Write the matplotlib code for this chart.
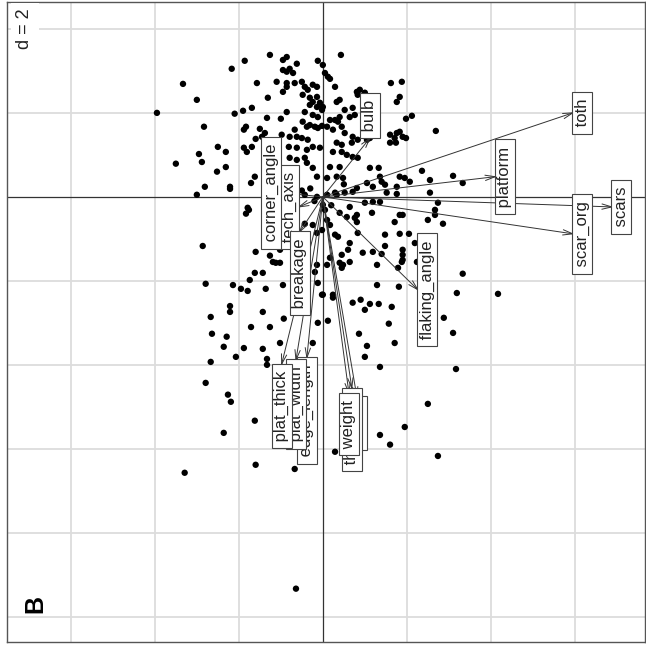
import numpy as np
import matplotlib
matplotlib.use("Agg")
import matplotlib.pyplot as plt

plt.rcParams['font.family'] = ['Liberation Sans', 'DejaVu Sans']

# Row scores (individual flakes) on the two retained axes
pts_x = [
    -1.26, -0.86, -1.86, -0.95, -0.62, -2.17, -0.95, -0.86, -0.79, -0.71, -0.12, -1.57,
    -3.33, -1.10, -0.86, -0.86, -0.67, -0.50, -0.43, -0.36, -0.24, -0.14, -0.95, -3.00,
    -1.31, -0.48, -0.31, -0.24, -0.14, -0.31, -0.14, -0.07, -0.02, -3.95, -2.10, -1.90,
    -1.69, -0.86, -1.33, -1.00, -0.43, -0.24, -0.12, -2.83, -1.83, -1.88, -1.50, -1.38,
    -0.67, -0.48, -0.38, -0.31, -0.19, -0.12, -0.02, -0.98, -1.60, -1.45, -0.79, -0.62,
    -0.50, -0.36, -2.50, -2.31, -1.88, -1.81, -1.69, -0.81, -0.62, -0.38, -0.24, -0.07,
    -2.95, -2.88, -3.50, -0.79, -0.62, -0.43, -0.38, -2.31, -2.52, -0.24, -0.14, -1.62,
    -1.71, -2.81, -2.21, -2.21, -3.00, -0.43, -0.14,
    0.43, 0.00, 0.05, 0.12, 0.17, 0.29, 1.62, 1.88, 0.81, 0.88, 0.83, 1.00, 1.83, 1.76,
    0.40, 0.33, 0.00, 0.52, 0.71, 0.76, 0.64, 0.40, 0.36, 0.29, 1.98, 2.12, 2.69, 0.17,
    0.10, 0.24, 0.45, 0.52, 1.60, 1.76, 1.83, 1.71, 1.90, 1.98, 1.60, 1.74, 0.71, 0.83,
    1.05, 1.12, 0.33, 0.45, 0.69, 0.24, 0.45, 0.57, 0.71, 0.83, 0.17, 0.40, 1.12, 1.33,
    2.36, 3.10, 3.33, 0.10, 0.33, 0.48, 1.36, 1.40, 1.48, 1.83, 1.95, 2.07, 1.76, 2.55,
    1.05, 1.19, 0.81, 0.71, 0.52, 0.33, 1.52, 1.76, 2.55, 0.10, 0.29,
    -1.76, -1.83, -2.86, -1.60, -1.26, -1.19, -1.12, -1.02, -1.62, -1.43, -1.74, -2.79,
    -2.14, -1.95, -1.79, -1.36, -0.95, -2.21, -2.21, -1.43, -2.67, -0.93, -1.71, -1.26,
    -2.64, -2.29, -2.36, -1.88, -1.43, -1.02, -2.07, -1.33, -1.33, -2.67, -2.79, -2.26,
    -0.43, -0.24, -0.14, -0.02, -0.14, -0.19, -0.12, -0.02, -0.12, -0.24, -0.19, -1.02,
    -1.07,
    0.64, 1.00, 1.19, 1.36, 2.74, 2.67, 2.67, 2.50, 2.86, 1.17, 1.83, 1.90, 0.40, 0.57,
    0.81, 0.81, 0.76, 1.71, 0.29, 0.36, 0.83, 1.48, 1.83, 2.05, 2.19, 1.48, 0.64, 0.60,
    0.95, 1.19, 1.40, 1.90, 1.90, 1.90, 1.88, 2.24, 0.45, 0.40, 0.48, 0.64, 0.45, 0.10,
    0.17, 1.29, 1.79, 3.33, 1.29, 1.81, 0.00, 0.24, 0.24, 3.19, 4.17, 0.71, 0.90, 1.12,
    1.33, 1.00, 1.64, 2.88, 0.12, 1.57, 3.10, 0.86, 1.71, 1.05, 1.00, 1.36, 3.17,
    -2.19, -1.62, -2.36, 2.50, 1.95, 1.36, 1.60, 2.74, 0.29, -1.60, -0.67, -3.29, -0.64,
    0.00, 0.05, 0.10, 0.17, -0.30, -0.50, -0.20, 0.20, 0.50, -1.79,
]
pts_y = [
    3.38, 3.33, 3.24, 3.26, 3.17, 3.05, 3.02, 2.98, 3.05, 2.95, 3.24, 2.71,
    2.69, 2.74, 2.71, 2.62, 2.71, 2.74, 2.62, 2.55, 2.67, 2.62, 2.50, 2.31,
    2.36, 2.43, 2.36, 2.26, 2.38, 2.19, 2.14, 2.24, 2.07, 2.00, 1.98, 2.05,
    2.12, 2.02, 1.88, 1.86, 2.02, 1.95, 1.90, 1.67, 1.67, 1.60, 1.62, 1.52,
    1.60, 1.79, 1.67, 1.71, 1.67, 1.64, 1.69, 1.48, 1.38, 1.43, 1.43, 1.43,
    1.40, 1.36, 1.19, 1.07, 1.17, 1.07, 1.19, 1.19, 1.17, 1.12, 1.19, 1.17,
    1.02, 0.83, 0.79, 0.93, 0.88, 0.93, 0.81, 0.71, 0.60, 0.69, 0.48, 0.48,
    0.33, 0.24, 0.24, 0.19, 0.05, 0.05, 0.00,
    3.38, 3.14, 2.95, 2.86, 2.81, 2.62, 2.71, 2.74, 2.50, 2.55, 2.43, 2.48, 2.38, 2.26,
    2.31, 2.26, 2.14, 2.07, 2.12, 1.95, 1.90, 1.90, 1.79, 1.83, 1.86, 1.93, 1.57, 1.83,
    1.67, 1.60, 1.67, 1.52, 1.48, 1.52, 1.55, 1.40, 1.43, 1.40, 1.29, 1.29, 1.43, 1.36,
    1.36, 1.40, 1.29, 1.24, 1.29, 1.07, 1.07, 1.00, 0.95, 0.93, 0.71, 0.71, 0.69, 0.69,
    0.62, 0.50, 0.33, 0.45, 0.48, 0.45, 0.48, 0.36, 0.29, 0.48, 0.45, 0.36, 0.24, 0.40,
    0.33, 0.24, 0.21, 0.12, 0.10, 0.05, 0.10, 0.07, 0.10, 0.05, 0.10,
    -0.31, -0.40, -1.17, -1.31, -1.40, -1.55, -1.57, -1.57, -1.81, -1.81, -1.98, -2.07,
    -2.10, -2.19, -2.24, -2.19, -2.10, -2.60, -2.74, -2.74, -2.86, -2.90, -3.10, -3.10,
    -3.26, -3.33, -3.57, -3.60, -3.62, -3.48, -3.81, -3.86, -4.00, -3.93, -4.43, -4.71,
    -0.64, -0.67, -0.86, -0.79, -1.62, -1.79, -2.05, -2.33, -3.00, -3.48, -3.95, -1.26,
    -1.19,
    -0.24, -0.14, -0.12, -0.12, -0.14, -0.31, -0.43, -0.55, -0.64, -0.38, -0.43, -0.43, -0.38, -0.48,
    -0.43, -0.60, -0.50, -0.60, -0.90, -0.95, -0.86, -0.90, -0.88, -0.88, -1.10, -1.17, -1.10, -1.26,
    -1.33, -1.31, -1.36, -1.26, -1.38, -1.50, -1.55, -1.55, -1.38, -1.57, -1.62, -1.55, -1.69, -1.62,
    -1.45, -1.62, -1.69, -1.83, -2.10, -2.14, -2.33, -2.33, -2.40, -2.29, -2.31, -2.52, -2.45, -2.55,
    -2.55, -2.69, -2.62, -2.88, -2.95, -3.02, -3.24, -3.26, -3.48, -3.55, -3.81, -4.05, -4.10,
    -4.88, -5.33, -5.62, -4.93, -5.48, -5.67, -5.90, -6.17, -6.07, -6.38, -6.48, -6.57, -9.33,
    -0.19, -0.31, -0.55, -0.67, 0.20, 0.15, -0.10, -0.20, 0.30, -0.26,
]

# Column scores (variables) drawn as arrows
var_names = ["scars", "scar_org", "toth", "platform", "flaking_angle", "bulb",
             "tech_axis", "corner_angle", "breakage", "edge_length", "plat_width",
             "plat_thick", "width", "thickness", "weight"]
var_x = [6.88, 5.95, 5.95, 4.10, 2.26, 1.12, -0.57, -1.00, -0.55, -0.38, -0.64,
         -0.98, 0.81, 0.69, 0.62]
var_y = [-0.24, -0.88, 2.00, 0.48, -2.21, 1.40, -0.24, 0.10, -0.83, -3.83, -3.88,
         -3.98, -4.76, -4.55, -4.67]

grid_step = 2
xlim = (-7.52, 7.67)
ylim = (-10.60, 4.64)

fig = plt.figure(figsize=(6.46, 6.49), dpi=100)
ax = fig.add_axes([7 / 646, 7 / 649, 638 / 646, 640 / 649])
ax.set_xlim(*xlim)
ax.set_ylim(*ylim)

# grid
for gx in np.arange(-6, 8, grid_step):
    if gx != 0:
        ax.axvline(gx, color="#dcdcdc", lw=1.3, zorder=0)
for gy in np.arange(-10, 6, grid_step):
    if gy != 0:
        ax.axhline(gy, color="#dcdcdc", lw=1.3, zorder=0)
ax.axvline(0, color="#333333", lw=0.9, zorder=1)
ax.axhline(0, color="#333333", lw=0.9, zorder=1)

# points
ax.scatter(pts_x, pts_y, s=21, color="black", edgecolors="none", zorder=2)

# arrows with open heads
head_len = 0.24
head_ang = np.deg2rad(15)
for vx, vy in zip(var_x, var_y):
    ax.plot([0, vx], [0, vy], color="#333333", lw=0.7, zorder=3)
    ang = np.arctan2(vy, vx)
    for s in (1, -1):
        a = ang + np.pi + s * head_ang
        ax.plot([vx, vx + head_len * np.cos(a)], [vy, vy + head_len * np.sin(a)],
                color="#333333", lw=0.7, zorder=3)

# labels, boxed, pushed outside the arrow tip
pad_pt = 1.5
for i, (name, vx, vy) in enumerate(zip(var_names, var_x, var_y)):
    if abs(vx) >= abs(vy):
        ha = "left" if vx > 0 else "right"
        va = "center"
        off = (pad_pt if vx > 0 else -pad_pt, 0)
    else:
        ha = "center"
        va = "bottom" if vy > 0 else "top"
        off = (0, pad_pt if vy > 0 else -pad_pt)
    ax.annotate(" " + name + " ", xy=(vx, vy), xytext=off, textcoords="offset points",
                rotation=90, ha=ha, va=va, fontsize=12, color="#222222",
                bbox=dict(boxstyle="square,pad=0.15", fc="white", ec="#444444", lw=0.8),
                zorder=10 + i)

# grid scale and panel letter
ax.text(0.028, 0.99, "d = 2", transform=ax.transAxes, rotation=90, ha="center", va="top",
        fontsize=13, color="#222222",
        bbox=dict(boxstyle="square,pad=0.3", fc="white", ec="none"), zorder=30)
ax.text(0.045, 0.045, "B", transform=ax.transAxes, rotation=90, ha="center", va="bottom",
        fontsize=18, fontweight="bold", color="black", zorder=30)

ax.set_xticks([])
ax.set_yticks([])
for sp in ax.spines.values():
    sp.set_color("#555555")
    sp.set_linewidth(1.0)

fig.savefig("out.png", dpi=100)
